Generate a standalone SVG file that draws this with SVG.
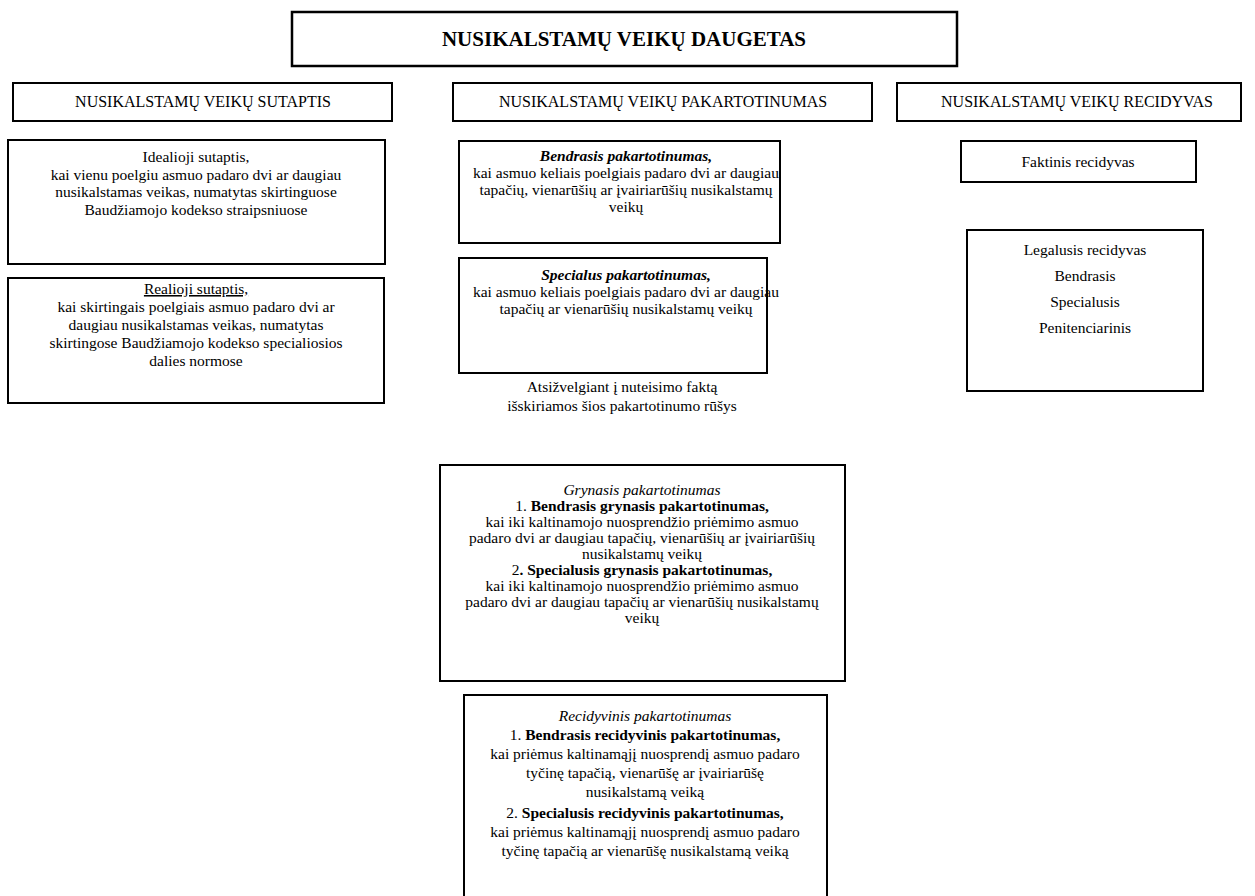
<svg xmlns="http://www.w3.org/2000/svg" width="1255" height="896" viewBox="0 0 1255 896">
<style>
rect{fill:#fff;stroke:#000;stroke-width:2}
text{font-family:"Liberation Serif","Times New Roman",serif;fill:#000;text-anchor:middle}
.t{font-size:21px;font-weight:bold}
.h{font-size:16px}
.b{font-size:15.5px}
.m{font-size:15.5px}
.bi{font-weight:bold;font-style:italic}
.i{font-style:italic}
.bd{font-weight:bold}
</style>
<rect width="1255" height="896" style="fill:#fff;stroke:none"/>
<g id="title"><rect x="292" y="12" width="665" height="54" style="stroke-width:2.5"/><text class="t" x="624" y="46">NUSIKALSTAMŲ VEIKŲ DAUGETAS</text></g>
<g id="h-sutaptis"><rect x="13" y="83" width="379" height="38"/><text class="h" x="203" y="107">NUSIKALSTAMŲ VEIKŲ SUTAPTIS</text></g>
<g id="h-pakartotinumas"><rect x="453" y="83" width="419" height="38"/><text class="h" x="663" y="107">NUSIKALSTAMŲ VEIKŲ PAKARTOTINUMAS</text></g>
<g id="h-recidyvas"><rect x="897" y="83" width="344" height="38"/><text class="h" x="1077" y="107">NUSIKALSTAMŲ VEIKŲ RECIDYVAS</text></g>
<g id="idealioji"><rect x="8" y="140" width="377" height="124"/>
<text class="b" x="196"><tspan x="196" y="162">Idealioji sutaptis,</tspan><tspan x="196" y="179.5">kai vienu poelgiu asmuo padaro dvi ar daugiau</tspan><tspan x="196" y="197">nusikalstamas veikas, numatytas skirtinguose</tspan><tspan x="196" y="214.5">Baudžiamojo kodekso straipsniuose</tspan></text></g>
<g id="realioji"><rect x="8" y="278" width="376" height="125"/>
<text class="b" x="196"><tspan x="196" y="294" text-decoration="underline">Realioji sutaptis,</tspan><tspan x="196" y="312">kai skirtingais poelgiais asmuo padaro dvi ar</tspan><tspan x="196" y="330">daugiau nusikalstamas veikas, numatytas</tspan><tspan x="196" y="348">skirtingose Baudžiamojo kodekso specialiosios</tspan><tspan x="196" y="366">dalies normose</tspan></text></g>
<g id="bendrasis"><rect x="459" y="141" width="321" height="102"/>
<text class="m" x="626"><tspan x="626" y="161" class="bi">Bendrasis pakartotinumas,</tspan><tspan x="626" y="178">kai asmuo keliais poelgiais padaro dvi ar daugiau</tspan><tspan x="626" y="195">tapačių, vienarūšių ar įvairiarūšių nusikalstamų</tspan><tspan x="626" y="212">veikų</tspan></text></g>
<g id="specialus"><rect x="459" y="258" width="308" height="115"/>
<text class="m" x="626"><tspan x="626" y="280" class="bi">Specialus pakartotinumas,</tspan><tspan x="626" y="297">kai asmuo keliais poelgiais padaro dvi ar daugiau</tspan><tspan x="626" y="314">tapačių ar vienarūšių nusikalstamų veikų</tspan></text></g>
<g id="note"><text class="m" x="622"><tspan x="622" y="392">Atsižvelgiant į nuteisimo faktą</tspan><tspan x="622" y="411">išskiriamos šios pakartotinumo rūšys</tspan></text></g>
<g id="faktinis"><rect x="961" y="141" width="235" height="41"/><text class="m" x="1078" y="167">Faktinis recidyvas</text></g>
<g id="legalusis"><rect x="967" y="230" width="236" height="161"/>
<text class="m" x="1085"><tspan x="1085" y="255">Legalusis recidyvas</tspan><tspan x="1085" y="281">Bendrasis</tspan><tspan x="1085" y="307">Specialusis</tspan><tspan x="1085" y="333">Penitenciarinis</tspan></text></g>
<g id="grynasis"><rect x="440" y="465" width="405" height="216"/>
<text class="b" x="642"><tspan x="642" y="495" class="i">Grynasis pakartotinumas</tspan><tspan x="642" y="511">1. <tspan class="bd">Bendrasis grynasis pakartotinumas,</tspan></tspan><tspan x="642" y="527">kai iki kaltinamojo nuosprendžio priėmimo asmuo</tspan><tspan x="642" y="543">padaro dvi ar daugiau tapačių, vienarūšių ar įvairiarūšių</tspan><tspan x="642" y="559">nusikalstamų veikų</tspan><tspan x="642" y="575">2<tspan class="bd">. Specialusis grynasis pakartotinumas,</tspan></tspan><tspan x="642" y="591">kai iki kaltinamojo nuosprendžio priėmimo asmuo</tspan><tspan x="642" y="607">padaro dvi ar daugiau tapačių ar vienarūšių nusikalstamų</tspan><tspan x="642" y="623">veikų</tspan></text></g>
<g id="recidyvinis"><rect x="464" y="695" width="363" height="210"/>
<text class="b" x="645"><tspan x="645" y="721" class="i">Recidyvinis pakartotinumas</tspan><tspan x="645" y="740">1. <tspan class="bd">Bendrasis recidyvinis pakartotinumas,</tspan></tspan><tspan x="645" y="759">kai priėmus kaltinamąjį nuosprendį asmuo padaro</tspan><tspan x="645" y="778">tyčinę tapačią, vienarūšę ar įvairiarūšę</tspan><tspan x="645" y="797">nusikalstamą veiką</tspan><tspan x="645" y="818">2. <tspan class="bd">Specialusis recidyvinis pakartotinumas,</tspan></tspan><tspan x="645" y="837">kai priėmus kaltinamąjį nuosprendį asmuo padaro</tspan><tspan x="645" y="856">tyčinę tapačią ar vienarūšę nusikalstamą veiką</tspan></text></g>
<g id="connectors"></g>
</svg>
